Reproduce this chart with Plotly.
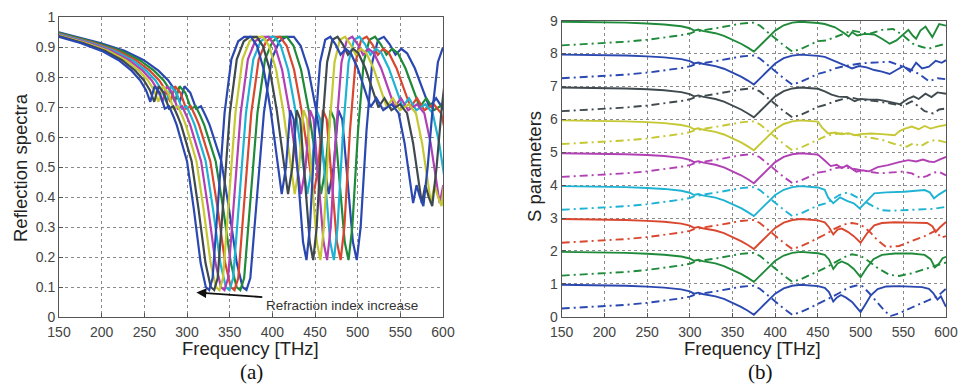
import plotly.graph_objects as go

# ---------------- colours (MATLAB-like order) ----------------
BLUE = '#2a48b0'
GREEN = '#1f8a3a'
RED = '#d9472f'
CYAN = '#1fb3d3'
MAGENTA = '#b140b4'
OLIVE = '#c5c833'
DGRAY = '#3f4a4f'

# ---------------- panel (a): reflection spectra ----------------
# reference spectrum (left-most curve, highest refraction index)
base_f = [130, 150, 175, 200, 220, 235, 245, 252, 257, 262, 268, 274, 279, 284, 288, 292,
          300, 308, 316, 322, 326, 330, 337, 344, 352, 360, 367, 375, 382, 390, 398, 405,
          411, 416, 421, 425, 431, 436, 440, 444, 450, 456, 462, 468, 474, 480, 486, 492,
          500, 508, 515, 522, 530, 540, 548, 555, 561, 565, 569, 573, 577, 582, 588, 594, 600]
base_r = [0.952, 0.934, 0.914, 0.888, 0.857, 0.822, 0.790, 0.757, 0.718, 0.770, 0.748, 0.695,
          0.703, 0.670, 0.640, 0.600, 0.520, 0.360, 0.180, 0.100, 0.090, 0.130, 0.420, 0.680,
          0.860, 0.920, 0.935, 0.935, 0.905, 0.825, 0.690, 0.530, 0.410, 0.500, 0.690, 0.660,
          0.420, 0.250, 0.190, 0.300, 0.620, 0.850, 0.925, 0.935, 0.910, 0.875, 0.895, 0.880,
          0.830, 0.760, 0.700, 0.730, 0.690, 0.710, 0.680, 0.580, 0.450, 0.380, 0.440, 0.400,
          0.370, 0.500, 0.700, 0.850, 0.900]
# frequency scaling of each spectrum read from the dip positions (372 ... 328 THz)
scale_a = [1.134, 1.112, 1.091, 1.073, 1.055, 1.037, 1.018, 1.000]
colors_a = [BLUE, GREEN, RED, CYAN, MAGENTA, OLIVE, DGRAY, BLUE]

# ---------------- panel (b): S parameters (offset by 0..8) ----------------
f_low = [150, 175, 200, 225, 250, 270, 290, 300, 305, 310, 315, 320, 330, 340, 350, 360,
         368, 375, 382, 390, 395, 400, 410, 420, 430, 440, 450]
s11_low = [0.97, 0.965, 0.955, 0.94, 0.915, 0.885, 0.83, 0.77, 0.70, 0.73, 0.69, 0.67, 0.62,
           0.54, 0.43, 0.30, 0.18, 0.06, 0.24, 0.44, 0.58, 0.70, 0.86, 0.94, 0.97, 0.96, 0.93]
s21_low = [0.25, 0.28, 0.32, 0.36, 0.42, 0.48, 0.56, 0.61, 0.66, 0.68, 0.71, 0.73, 0.77,
           0.82, 0.87, 0.91, 0.93, 0.94, 0.85, 0.68, 0.56, 0.45, 0.25, 0.06, 0.14, 0.26, 0.38]

s11_hi_f = [
    [458, 463, 468, 472, 477, 483, 490, 495, 500, 505, 512, 520, 530, 545, 560, 572, 580, 585, 590, 594, 600],
    [458, 463, 468, 473, 478, 485, 492, 500, 507, 515, 525, 540, 560, 575, 582, 587, 592, 596, 600],
    [458, 463, 468, 473, 478, 485, 492, 500, 508, 516, 525, 540, 560, 578, 584, 588, 593, 600],
    [458, 462, 468, 476, 484, 492, 499, 507, 516, 530, 551, 575, 581, 586, 592, 600],
    [458, 465, 472, 478, 484, 490, 495, 502, 510, 520, 532, 545, 556, 565, 573, 580, 586, 593, 600],
    [455, 462, 470, 478, 486, 493, 500, 512, 525, 540, 546, 552, 560, 568, 575, 582, 590, 600],
    [458, 466, 474, 484, 493, 500, 510, 520, 527, 535, 546, 555, 562, 568, 576, 583, 590, 600],
    [458, 468, 481, 490, 498, 507, 516, 525, 534, 542, 550, 558, 565, 572, 580, 588, 595, 600],
    [458, 470, 481, 486, 490, 496, 505, 516, 525, 534, 542, 550, 556, 561, 565, 570, 576, 584, 592, 600],
]
s11_hi_v = [
    [0.88, 0.75, 0.46, 0.58, 0.66, 0.58, 0.45, 0.30, 0.14, 0.35, 0.65, 0.84, 0.92, 0.93, 0.91, 0.90, 0.85, 0.72, 0.52, 0.62, 0.30],
    [0.88, 0.74, 0.45, 0.62, 0.68, 0.60, 0.45, 0.20, 0.48, 0.75, 0.88, 0.92, 0.92, 0.88, 0.75, 0.50, 0.62, 0.78, 0.82],
    [0.87, 0.72, 0.50, 0.65, 0.68, 0.58, 0.45, 0.25, 0.55, 0.78, 0.85, 0.87, 0.86, 0.85, 0.75, 0.58, 0.72, 0.88],
    [0.86, 0.62, 0.45, 0.63, 0.52, 0.45, 0.29, 0.52, 0.75, 0.78, 0.80, 0.85, 0.78, 0.60, 0.72, 0.85],
    [0.75, 0.58, 0.62, 0.52, 0.60, 0.50, 0.41, 0.45, 0.42, 0.55, 0.61, 0.70, 0.76, 0.72, 0.78, 0.72, 0.70, 0.78, 0.86],
    [0.75, 0.57, 0.60, 0.55, 0.58, 0.52, 0.55, 0.57, 0.55, 0.52, 0.65, 0.72, 0.78, 0.70, 0.80, 0.72, 0.78, 0.83],
    [0.85, 0.75, 0.69, 0.68, 0.55, 0.62, 0.60, 0.60, 0.57, 0.52, 0.46, 0.62, 0.70, 0.62, 0.78, 0.68, 0.82, 0.78],
    [0.90, 0.80, 0.65, 0.55, 0.62, 0.58, 0.50, 0.45, 0.38, 0.50, 0.62, 0.45, 0.72, 0.55, 0.60, 0.78, 0.72, 0.80],
    [0.90, 0.80, 0.62, 0.52, 0.65, 0.55, 0.60, 0.58, 0.45, 0.30, 0.40, 0.60, 0.72, 0.55, 0.45, 0.70, 0.82, 0.50, 0.90, 0.85],
]
s21_hi_f = [
    [460, 468, 475, 485, 495, 502, 510, 520, 528, 535, 545, 560, 575, 590, 600],
    [460, 470, 480, 490, 500, 510, 520, 534, 545, 560, 575, 590, 600],
    [460, 470, 480, 490, 500, 510, 520, 530, 545, 560, 575, 588, 594, 600],
    [460, 466, 475, 485, 495, 505, 515, 524, 535, 555, 570, 585, 600],
    [460, 470, 480, 490, 500, 512, 523, 535, 549, 560, 570, 578, 585, 592, 600],
    [460, 470, 480, 495, 510, 525, 540, 554, 562, 570, 578, 588, 600],
    [460, 470, 480, 490, 500, 510, 520, 535, 550, 560, 568, 575, 585, 592, 600],
    [460, 470, 481, 490, 500, 510, 520, 534, 548, 560, 570, 580, 590, 600],
    [460, 475, 490, 500, 510, 525, 538, 550, 561, 572, 580, 588, 595, 600],
]
s21_hi_v = [
    [0.52, 0.62, 0.72, 0.88, 0.95, 0.93, 0.72, 0.40, 0.18, 0.02, 0.10, 0.28, 0.45, 0.62, 0.85],
    [0.50, 0.65, 0.80, 0.90, 0.85, 0.68, 0.48, 0.27, 0.24, 0.32, 0.45, 0.58, 0.65],
    [0.52, 0.68, 0.80, 0.85, 0.80, 0.60, 0.32, 0.12, 0.15, 0.30, 0.45, 0.62, 0.40, 0.45],
    [0.45, 0.55, 0.70, 0.78, 0.65, 0.50, 0.35, 0.24, 0.22, 0.24, 0.25, 0.28, 0.34],
    [0.42, 0.52, 0.55, 0.50, 0.45, 0.40, 0.36, 0.38, 0.41, 0.36, 0.22, 0.28, 0.38, 0.40, 0.30],
    [0.50, 0.55, 0.58, 0.52, 0.45, 0.38, 0.25, 0.17, 0.28, 0.18, 0.30, 0.38, 0.30],
    [0.45, 0.55, 0.62, 0.66, 0.60, 0.58, 0.55, 0.48, 0.42, 0.55, 0.40, 0.25, 0.18, 0.30, 0.33],
    [0.45, 0.55, 0.62, 0.66, 0.70, 0.72, 0.73, 0.75, 0.62, 0.50, 0.35, 0.16, 0.25, 0.22],
    [0.40, 0.55, 0.70, 0.65, 0.60, 0.72, 0.75, 0.55, 0.30, 0.20, 0.15, 0.22, 0.28, 0.30],
]
offsets_b = [0, 1, 2, 3, 4, 5, 6, 7, 8]
colors_b = [BLUE, GREEN, RED, CYAN, MAGENTA, OLIVE, DGRAY, BLUE, GREEN]

freq_ticks = [150, 200, 250, 300, 350, 400, 450, 500, 550, 600]
refl_ticks = [0, 0.1, 0.2, 0.3, 0.4, 0.5, 0.6, 0.7, 0.8, 0.9, 1]
refl_labels = ['0', '0.1', '0.2', '0.3', '0.4', '0.5', '0.6', '0.7', '0.8', '0.9', '1']
s_ticks = [0, 1, 2, 3, 4, 5, 6, 7, 8, 9]

fig = go.Figure()

for s, c in zip(scale_a, colors_a):
    fig.add_trace(go.Scatter(x=[f * s for f in base_f], y=base_r, mode='lines',
                             line=dict(color=c, width=2.2), xaxis='x', yaxis='y',
                             showlegend=False, hoverinfo='skip'))

DASHDOT = '8px,4px,2px,4px'
for k, c in zip(range(len(offsets_b)), colors_b):
    off = offsets_b[k]
    fx = f_low + s21_hi_f[k]
    fy = [v + off for v in s21_low + s21_hi_v[k]]
    fig.add_trace(go.Scatter(x=fx, y=fy, mode='lines',
                             line=dict(color=c, width=1.9, dash=DASHDOT),
                             xaxis='x2', yaxis='y2', showlegend=False, hoverinfo='skip'))
    sx = f_low + s11_hi_f[k]
    sy = [v + off for v in s11_low + s11_hi_v[k]]
    fig.add_trace(go.Scatter(x=sx, y=sy, mode='lines',
                             line=dict(color=c, width=1.9),
                             xaxis='x2', yaxis='y2', showlegend=False, hoverinfo='skip'))

W, H = 959, 385
TICKFONT = dict(family='Liberation Sans, Arial', size=14, color='#444444')
axis_common = dict(showline=True, mirror=True, linecolor='#555555', linewidth=1,
                   ticks='inside', ticklen=4, tickcolor='#555555',
                   showgrid=True, gridcolor='#8a8a8a', griddash='dot', gridwidth=1,
                   zeroline=False, tickfont=TICKFONT, automargin=False)

fig.update_layout(
    width=W, height=H,
    margin=dict(l=0, r=0, t=0, b=0),
    paper_bgcolor='white', plot_bgcolor='white',
    xaxis=dict(domain=[59 / W, 443 / W], range=[150, 600], tickvals=freq_ticks,
               anchor='y', ticklabelstandoff=2, **axis_common),
    yaxis=dict(domain=[(H - 317) / H, (H - 17.3) / H], range=[0, 1],
               tickvals=refl_ticks, ticktext=refl_labels, anchor='x', **axis_common),
    xaxis2=dict(domain=[561.7 / W, 946 / W], range=[150, 600], tickvals=freq_ticks,
                anchor='y2', ticklabelstandoff=2, **axis_common),
    yaxis2=dict(domain=[(H - 316.7) / H, (H - 20.7) / H], range=[0, 9],
                tickvals=s_ticks, anchor='x2', **axis_common),
)

TITLEFONT = dict(family='Liberation Sans, Arial', size=18.5, color='#222222')
SERIF = dict(family='Liberation Serif, Times New Roman', size=21, color='#111111')
ann = [
    dict(text='Frequency [THz]', x=250 / W, y=(H - 348) / H, xref='paper', yref='paper',
         showarrow=False, font=TITLEFONT, xanchor='center', yanchor='middle'),
    dict(text='Frequency [THz]', x=752 / W, y=(H - 348) / H, xref='paper', yref='paper',
         showarrow=False, font=TITLEFONT, xanchor='center', yanchor='middle'),
    dict(text='Reflection spectra', x=20 / W, y=(H - 168) / H, xref='paper', yref='paper',
         showarrow=False, font=TITLEFONT, textangle=-90, xanchor='center', yanchor='middle'),
    dict(text='S parameters', x=534 / W, y=(H - 167) / H, xref='paper', yref='paper',
         showarrow=False, font=TITLEFONT, textangle=-90, xanchor='center', yanchor='middle'),
    dict(text='(a)', x=251 / W, y=(H - 372) / H, xref='paper', yref='paper',
         showarrow=False, font=SERIF, xanchor='center', yanchor='middle'),
    dict(text='(b)', x=760 / W, y=(H - 372) / H, xref='paper', yref='paper',
         showarrow=False, font=SERIF, xanchor='center', yanchor='middle'),
    dict(text='', x=311, y=0.082, xref='x', yref='y', ax=390, ay=0.066, axref='x', ayref='y',
         showarrow=True, arrowhead=2, arrowsize=1.1, arrowwidth=1.8, arrowcolor='#111111'),
    dict(text='Refraction index increase', x=390, y=0.038, xref='x', yref='y',
         showarrow=False, xanchor='left', yanchor='middle',
         font=dict(family='Liberation Sans, Arial', size=13.5, color='#333333')),
]
fig.update_layout(annotations=ann)

fig.write_html('out.html', config={'displayModeBar': False},
               post_script="document.body.style.margin='0';")
